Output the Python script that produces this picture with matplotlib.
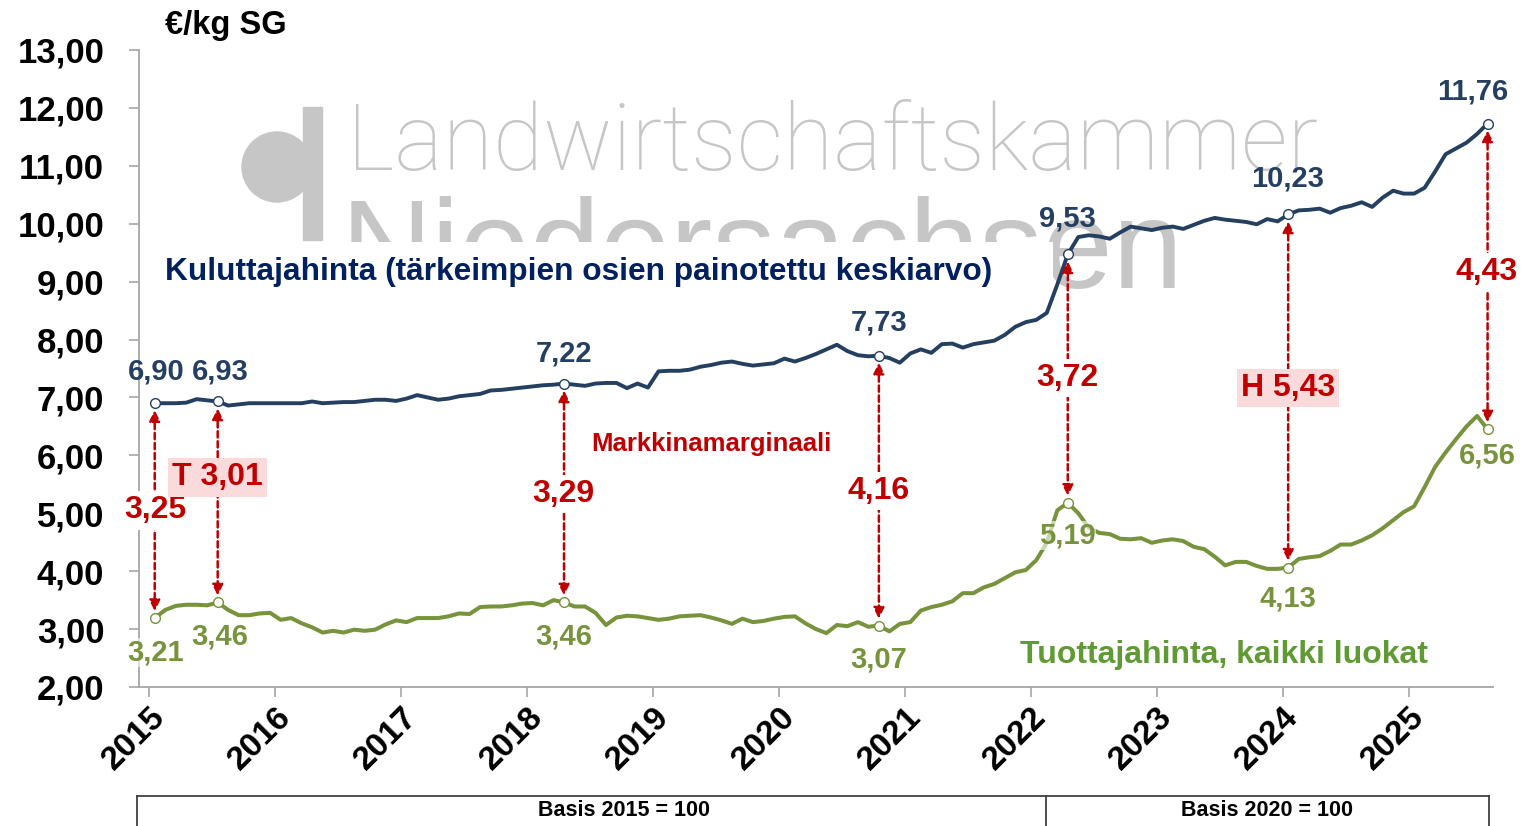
import matplotlib
matplotlib.use("Agg")
import matplotlib.pyplot as plt
import matplotlib.transforms as mtransforms
from matplotlib.patches import Ellipse, Rectangle
from matplotlib.lines import Line2D
import numpy as np

plt.rcParams['font.family'] = ['Liberation Sans', 'DejaVu Sans']

# monthly values Jan 2015 .. Aug 2025 (EUR/kg SG)
consumer = [
    6.90, 6.90, 6.90, 6.91, 6.97, 6.95, 6.93, 6.86, 6.88, 6.90, 6.90, 6.90,
    6.90, 6.90, 6.90, 6.93, 6.90, 6.91, 6.92, 6.92, 6.94, 6.96, 6.96, 6.94,
    6.98, 7.04, 7.00, 6.96, 6.98, 7.02, 7.04, 7.06, 7.12, 7.13, 7.15, 7.17,
    7.19, 7.21, 7.22, 7.24, 7.22, 7.20, 7.24, 7.25, 7.25, 7.16, 7.24, 7.17,
    7.45, 7.46, 7.46, 7.48, 7.53, 7.56, 7.60, 7.62, 7.58, 7.55, 7.57, 7.59,
    7.67, 7.62, 7.68, 7.75, 7.83, 7.91, 7.80, 7.73, 7.71, 7.72, 7.68, 7.60,
    7.76, 7.83, 7.77, 7.92, 7.93, 7.86, 7.92, 7.95, 7.98, 8.08, 8.22, 8.30,
    8.34, 8.46, 8.95, 9.47, 9.77, 9.80, 9.78, 9.74, 9.85, 9.95, 9.92, 9.89,
    9.93, 9.95, 9.91, 9.98, 10.05, 10.10, 10.07, 10.05, 10.03, 9.99, 10.08, 10.04,
    10.16, 10.23, 10.24, 10.26, 10.19, 10.27, 10.31, 10.37, 10.29, 10.45, 10.57, 10.52,
    10.52, 10.62, 10.90, 11.20, 11.30, 11.40, 11.55, 11.73,
]
producer = [
    3.19, 3.33, 3.40, 3.42, 3.42, 3.41, 3.46, 3.33, 3.24, 3.24, 3.27, 3.28,
    3.16, 3.19, 3.10, 3.03, 2.94, 2.97, 2.94, 2.99, 2.97, 2.99, 3.08, 3.15,
    3.12, 3.19, 3.19, 3.19, 3.22, 3.27, 3.26, 3.38, 3.39, 3.39, 3.41, 3.44,
    3.45, 3.41, 3.50, 3.46, 3.39, 3.39, 3.28, 3.07, 3.20, 3.23, 3.22, 3.19,
    3.16, 3.18, 3.22, 3.23, 3.24, 3.20, 3.15, 3.09, 3.18, 3.12, 3.14, 3.18,
    3.21, 3.22, 3.10, 3.00, 2.93, 3.07, 3.05, 3.12, 3.04, 3.06, 2.96, 3.09,
    3.12, 3.32, 3.38, 3.42, 3.48, 3.62, 3.62, 3.72, 3.78, 3.88, 3.98, 4.02,
    4.19, 4.49, 5.05, 5.18, 5.00, 4.75, 4.66, 4.64, 4.56, 4.55, 4.57, 4.49,
    4.53, 4.55, 4.52, 4.42, 4.38, 4.25, 4.10, 4.16, 4.16, 4.09, 4.04, 4.04,
    4.06, 4.21, 4.24, 4.26, 4.35, 4.46, 4.46, 4.53, 4.62, 4.74, 4.88, 5.02,
    5.12, 5.45, 5.80, 6.05, 6.28, 6.50, 6.68, 6.45,
]
t = 2015 + (np.arange(len(consumer)) + 0.5) / 12

# highlighted months (index into the monthly series) and their printed values
mark_idx = [0, 6, 39, 69, 87, 108, 127]
consumer_lbl = ["6,90", "6,93", "7,22", "7,73", "9,53", "10,23", "11,76"]
producer_lbl = ["3,21", "3,46", "3,46", "3,07", "5,19", "4,13", "6,56"]
margin_lbl = ["3,25", "T 3,01", "3,29", "4,16", "3,72", "H 5,43", "4,43"]

years = list(range(2015, 2026))
yticks = list(range(2, 14))

navy = "#243f60"
green = "#77933c"
red = "#c00000"

fig = plt.figure(figsize=(15.39, 8.26), dpi=100)
ax = fig.add_axes([0.0903, 0.1683, 0.8797, 0.7712])
ax.set_facecolor("none")

# watermark
wm = "#c6c6c6"
fig.text(0.2255, 0.794, "Landwirtschaftskammer", fontsize=66, color=wm,
         family=["Roboto", "DejaVu Sans"], fontweight="light", zorder=-2)
fig.text(0.2215, 0.651, "Niedersachsen", fontsize=91, color=wm,
         family=["Liberation Sans"], zorder=-2)
fig.patches.append(Ellipse((277 / 1539, 1 - 167 / 826), 70 / 1539, 70 / 826,
                           color=wm, transform=fig.transFigure, zorder=-2))
fig.patches.append(Rectangle((303 / 1539, 1 - 240 / 826), 19 / 1539, 133 / 826,
                             color=wm, transform=fig.transFigure, zorder=-2))

ax.plot(t, consumer, color=navy, lw=2.8, zorder=3, solid_joinstyle="round")
ax.plot(t, producer, color=green, lw=2.9, zorder=3, solid_joinstyle="round")

mx = t[mark_idx]
cy = [consumer[i] for i in mark_idx]
py = [producer[i] for i in mark_idx]
ax.plot(mx, cy, "o", ms=7, mfc="white", mec=navy, mew=1, zorder=5)
ax.plot(mx, py, "o", ms=7, mfc="white", mec=green, mew=1, zorder=5)

for x, a, b in zip(mx, cy, py):
    ax.annotate("", xy=(x, b), xytext=(x, a),
                arrowprops=dict(arrowstyle="<|-|>", color=red, lw=1.8,
                                ls=(0, (2.5, 1.5)), shrinkA=5, shrinkB=5,
                                mutation_scale=16), zorder=4)

# value labels (positions in data units)
c_pos = [(2015.05, 7.45), (2015.56, 7.45), (2018.29, 7.76), (2020.79, 8.29),
         (2022.29, 10.09), (2024.04, 10.78), (2025.51, 12.29)]
p_pos = [(2015.05, 2.60), (2015.56, 2.88), (2018.29, 2.88), (2020.79, 2.48),
         (2022.29, 4.62), (2024.04, 3.53), (2025.62, 6.00)]
m_pos = [(2015.05, 5.05), (2015.54, 5.62), (2018.29, 5.33), (2020.79, 5.38),
         (2022.29, 7.33), (2024.04, 7.16), (2025.62, 9.16)]

for (x, y), s in zip(c_pos, consumer_lbl):
    ax.text(x, y, s, color=navy, fontsize=21, fontweight="bold",
            ha="center", va="center", zorder=6)
for (x, y), s in zip(p_pos, producer_lbl):
    ax.text(x, y, s, color=green, fontsize=21, fontweight="bold",
            ha="center", va="center", zorder=6,
            bbox=dict(fc="white", ec="none", alpha=0.6, pad=0.5))
for (x, y), s in zip(m_pos, margin_lbl):
    fc = "#fadada" if s[0] in "TH" else "white"
    ax.text(x, y, s, color=red, fontsize=23, fontweight="bold",
            ha="center", va="center", zorder=6,
            bbox=dict(fc=fc, ec="none", pad=3))

# series captions
ax.add_patch(Rectangle((0.0081, 0.5997), 0.667, 0.0989, transform=ax.transAxes,
                       fc="white", ec="none", zorder=2))
ax.text(0.0192, 0.6515, "Kuluttajahinta (tärkeimpien osien painotettu keskiarvo)",
        transform=ax.transAxes, color="#002060", fontsize=22.8, fontweight="bold",
        va="center", ha="left", zorder=6)
ax.text(0.4225, 0.3815, "Markkinamarginaali", transform=ax.transAxes,
        color=red, fontsize=18.5, fontweight="bold", ha="center", va="center",
        zorder=6)
ax.text(0.6507, 0.0502, "Tuottajahinta, kaikki luokat", transform=ax.transAxes,
        color="#5f9a33", fontsize=23, fontweight="bold", ha="left",
        va="center", zorder=6)

ax.set_xlim(2015 - 1 / 12, 2025 + 8 / 12)
ax.set_ylim(2, 13)
ax.set_yticks(yticks)
ax.set_yticklabels([f"{v},00" for v in yticks], fontsize=25, fontweight="bold")
ax.set_xticks(years)
ax.set_xticklabels([str(y) for y in years], fontsize=24, fontweight="bold",
                   rotation=45, ha="right", va="top", rotation_mode="anchor")
off = mtransforms.ScaledTranslation(0.03, 0.02, fig.dpi_scale_trans)
for lab in ax.get_xticklabels():
    lab.set_transform(lab.get_transform() + off)
for side in ("top", "right"):
    ax.spines[side].set_visible(False)
for side in ("left", "bottom"):
    ax.spines[side].set_color("#a6a6a6")
    ax.spines[side].set_linewidth(1.3)
ax.tick_params(axis="both", color="#a6a6a6", width=1.2, length=7)
ax.tick_params(axis="y", pad=18)

fig.text(0.107, 0.9697, "€/kg SG", fontsize=23.5, fontweight="bold",
         va="center", ha="left")

# base-period box under the axis
bc = "#404040"
y0 = 1 - 796 / 826
for xa, xb, ya, yb in [(137, 1489, y0, y0), (137, 137, 0, y0),
                       (1046, 1046, 0, y0), (1489, 1489, 0, y0)]:
    fig.add_artist(Line2D([xa / 1539, xb / 1539], [ya, yb], color=bc, lw=1.3,
                          transform=fig.transFigure))
narrow = ["Liberation Sans Narrow", "Liberation Sans"]
fig.text(624 / 1539, 1 - 811 / 826, "Basis 2015 = 100", family=narrow,
         fontsize=15.5, fontweight="bold", ha="center", va="center")
fig.text(1267 / 1539, 1 - 811 / 826, "Basis 2020 = 100", family=narrow,
         fontsize=15.5, fontweight="bold", ha="center", va="center")

fig.savefig("out.png", dpi=100)
